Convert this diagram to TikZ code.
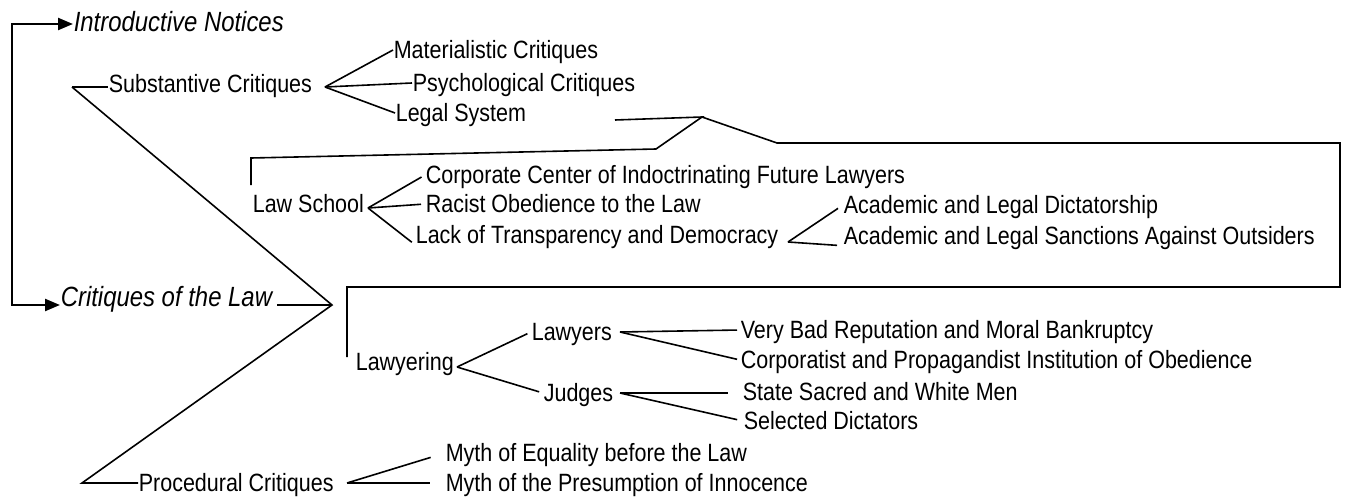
\documentclass[tikz,border=0pt]{standalone}
\usepackage{fontspec}
\setmainfont{Liberation Sans}[FakeStretch=0.86]
\usetikzlibrary{arrows.meta}

\begin{document}
\begin{tikzpicture}[x=0.5pt,y=-0.5pt,line width=0.8pt,
  item/.style={anchor=west,inner sep=0pt,text height=8.95pt,text depth=0pt,font=\fontsize{12.5}{14}\selectfont},
  head/.style={anchor=west,inner sep=0pt,text height=9.95pt,text depth=0pt,font=\fontsize{13.9}{16}\selectfont\itshape},
  spine/.style={line width=1.2pt,-{Triangle[length=7.5pt,width=6pt]}}]
            \useasboundingbox (0,0) rectangle (1351,498);

            \node[head] (intro) at (73,22) {Introductive Notices};
            \node[head] (crit) at (60,297) {Critiques of the Law};
            \node[item] (subst) at (108,84) {Substantive Critiques};
            \node[item] (mat) at (393,50) {Materialistic Critiques};
            \node[item] (psy) at (412,83) {Psychological Critiques};
            \node[item] (legal) at (395,113) {Legal System};
            \node[item] (school) at (252,204) {Law School};
            \node[item] (corp) at (425,175) {Corporate Center of Indoctrinating Future Lawyers};
            \node[item] (racist) at (425,204) {Racist Obedience to the Law};
            \node[item] (lack) at (415,235) {Lack of Transparency and Democracy};
            \node[item] (dict) at (843,205) {Academic and Legal Dictatorship};
            \node[item] (sanct) at (843,236) {Academic and Legal Sanctions Against Outsiders};
            \node[item] (lawyering) at (355,362) {Lawyering};
            \node[item] (lawyers) at (531,332) {Lawyers};
            \node[item] (judges) at (543,393) {Judges};
            \node[item] (bad) at (740,330) {Very Bad Reputation and Moral Bankruptcy};
            \node[item] (corpst) at (740,360) {Corporatist and Propagandist Institution of Obedience};
            \node[item] (sacred) at (742,392) {State Sacred and White Men};
            \node[item] (selected) at (743,421) {Selected Dictators};
            \node[item] (proc) at (138,483) {Procedural Critiques};
            \node[item] (equal) at (445,453) {Myth of Equality before the Law};
            \node[item] (presum) at (445,483) {Myth of the Presumption of Innocence};

            \coordinate (top) at (12,24);
            \coordinate (bottom) at (12,305);
            \coordinate (hub) at (332,305);
            \coordinate (sTail) at (72,87);
            \coordinate (pTail) at (82,483);
            \coordinate (sFork) at (325,87);
            \coordinate (lFork) at (368,208);
            \coordinate (aFork) at (788,242);
            \coordinate (wFork) at (457,367);
            \coordinate (yFork) at (620,332);
            \coordinate (jFork) at (620,393);
            \coordinate (pFork) at (347,483);
            \coordinate (linkA) at (615,120);
            \coordinate (peak) at (702,117);
            \coordinate (linkB) at (656,149);
            \coordinate (linkC) at (251,158);
            \coordinate (linkD) at (251,185);
            \coordinate (boxA) at (777,143);
            \coordinate (boxB) at (1340,143);
            \coordinate (boxC) at (1340,287);
            \coordinate (boxD) at (347,287);
            \coordinate (boxE) at (347,357);

            \draw[spine] (bottom) -- (top) -- (intro.west |- top);
            \draw[spine] (top) -- (bottom) -- (crit.west |- bottom);
            \draw (sTail) -- (sTail -| subst.west);
            \draw (sTail) -- (hub) -- (pTail) -- (pTail -| proc.west);
            \draw[shorten >=2pt] (hub) -- (hub -| crit.east);
            \draw (sFork) -- (mat.west);
            \draw (sFork) -- (psy.west);
            \draw (sFork) -- (legal.west);
            \draw (linkA) -- (peak) -- (linkB) -- (linkC) -- (linkD);
            \draw (peak) -- (boxA) -- (boxB) -- (boxC) -- (boxD) -- (boxE);
            \draw[shorten >=2pt] (lFork) -- (corp.west);
            \draw[shorten >=2pt] (lFork) -- (racist.west);
            \draw[shorten >=2pt] (lFork) -- (lack.south west);
            \draw[shorten >=3pt] (aFork) -- (dict.west);
            \draw[shorten >=3pt] (aFork) -- (sanct.south west);
            \draw[shorten >=2pt] (wFork) -- (lawyers.west);
            \draw[shorten >=2pt] (wFork) -- (judges.west);
            \draw[shorten >=1.5pt] (yFork) -- (bad.west);
            \draw[shorten >=1.5pt] (yFork) -- (corpst.west);
            \draw[shorten >=7pt] (jFork) -- (jFork -| sacred.west);
            \draw[shorten >=3pt] (jFork) -- (selected.west);
            \draw[shorten >=7.5pt] (pFork) -- (equal.west);
            \draw[shorten >=7.5pt] (pFork) -- (presum.west);
        \end{tikzpicture}
\end{document}
